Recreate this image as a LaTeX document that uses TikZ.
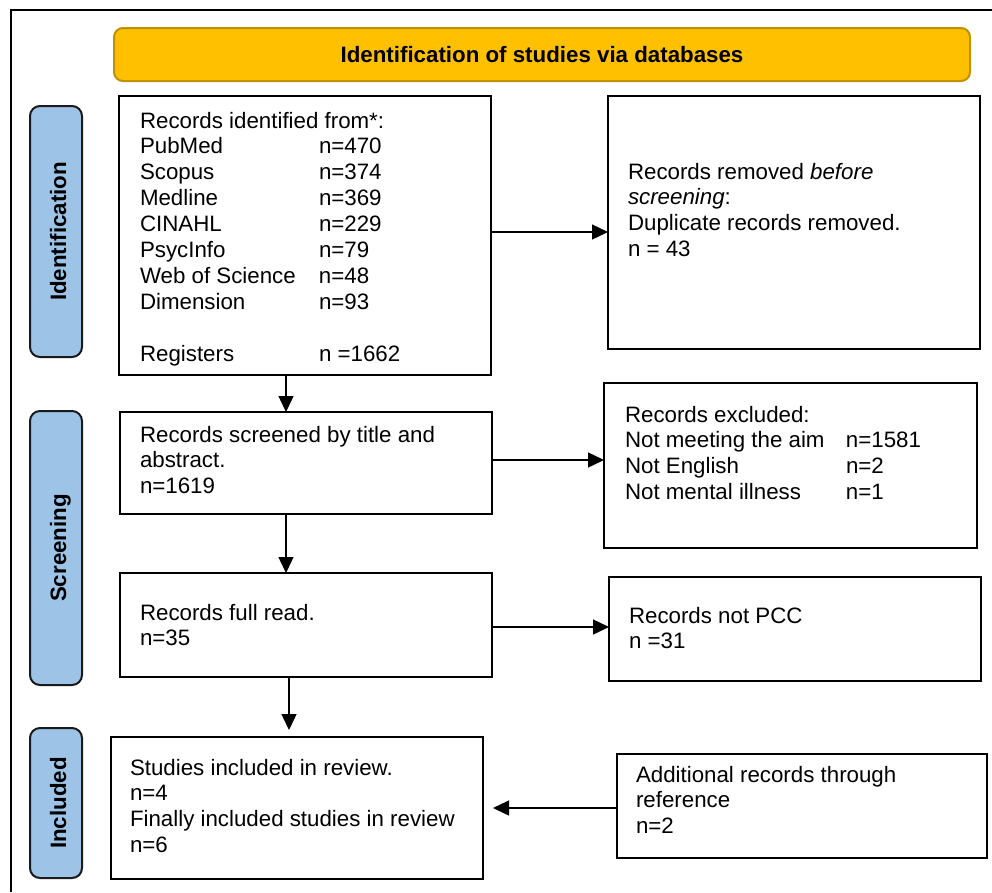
\documentclass[tikz,border=0pt]{standalone}
\usepackage{fontspec}
\setmainfont{Liberation Sans}
\usetikzlibrary{arrows.meta,calc}
\definecolor{hdrfill}{HTML}{FFC000}
\definecolor{hdrdraw}{HTML}{BF9000}
\definecolor{lblfill}{HTML}{9DC3E6}
\definecolor{lbldraw}{HTML}{1A1A1A}
\newcommand{\tb}[1]{\begin{tabular}[t]{@{}l@{}}#1\end{tabular}}
\begin{document}
\begin{tikzpicture}[x=1pt,y=-1pt,
  every node/.style={inner sep=0pt, outer sep=0pt},
  boxx/.style={draw=black, line width=2pt, anchor=north west, fill=white},
  txt/.style={anchor=base west, font=\fontsize{22.3}{25.9}\selectfont},
  lbl/.style={draw=lbldraw, fill=lblfill, line width=2pt, rounded corners=10pt, anchor=north west, minimum width=52pt},
  lbltxt/.style={rotate=90, anchor=base, font=\bfseries\fontsize{22.3}{26}\selectfont},
  arr/.style={line width=1.4pt, -{Triangle[length=16pt,width=15pt]}}]
\useasboundingbox (0,0) rectangle (992,892);
\fill[white] (0,0) rectangle (992,892);
\draw[line width=2pt] (11,892) -- (11,10) -- (992,10);

% header
\node[draw=hdrdraw, fill=hdrfill, line width=2pt, rounded corners=9pt, anchor=north west,
      minimum width=856pt, minimum height=53pt, font=\bfseries\fontsize{22.3}{26}\selectfont]
      (hdr) at (114,28) {Identification of studies via databases};

% phase labels
\node[lbl, minimum height=251pt] (lid) at (30,106) {};
\node[lbltxt] (lidt) at ($(lid.center)+(10,0)$) {Identification};
\node[lbl, minimum height=274pt] (lsc) at (30,411) {};
\node[lbltxt] (lsct) at ($(lsc.center)+(10,0)$) {Screening};
\node[lbl, minimum height=150pt] (lin) at (30,728) {};
\node[lbltxt] (lint) at ($(lin.center)+(10,0)$) {Included};

% boxes
\node[boxx, minimum width=372pt, minimum height=279pt] (idbox) at (119,96) {};
\node[boxx, minimum width=372pt, minimum height=253pt] (removed) at (608,96) {};
\node[boxx, minimum width=372pt, minimum height=102pt] (screened) at (120,412) {};
\node[boxx, minimum width=373pt, minimum height=165pt] (excluded) at (604,383) {};
\node[boxx, minimum width=372pt, minimum height=104pt] (fullread) at (120,573) {};
\node[boxx, minimum width=372pt, minimum height=104pt] (notpcc) at (609,577) {};
\node[boxx, minimum width=372pt, minimum height=142pt] (included) at (111,737) {};
\node[boxx, minimum width=370pt, minimum height=104pt] (additional) at (617,754) {};

% texts
\node[txt] (t1) at (140,128) {\begin{tabular}[t]{@{}p{179pt}@{}l@{}}
\multicolumn{2}{@{}l@{}}{Records identified from*:}\\
PubMed & n=470\\
Scopus & n=374\\
Medline & n=369\\
CINAHL & n=229\\
PsycInfo & n=79\\
Web of Science & n=48\\
Dimension & n=93\\
 & \\
Registers & n =1662
\end{tabular}};
\node[txt] (t2) at (628,179) {\tb{Records removed \textit{before}\\ \textit{screening}:\\ Duplicate records removed.\\ n = 43}};
\node[txt] (t3) at (140,442) {\tb{Records screened by title and\\ abstract.\\ n=1619}};
\node[txt] (t4) at (625,422) {\begin{tabular}[t]{@{}p{221pt}@{}l@{}}
\multicolumn{2}{@{}l@{}}{Records excluded:}\\
Not meeting the aim & n=1581\\
Not English & n=2\\
Not mental illness & n=1
\end{tabular}};
\node[txt] (t5) at (140,620) {\tb{Records full read.\\ n=35}};
\node[txt] (t6) at (629,623) {\tb{Records not PCC\\ n =31}};
\node[txt] (t7) at (130,775) {\tb{Studies included in review.\\ n=4\\ Finally included studies in review\\ n=6}};
\node[txt] (t8) at (636,782) {\tb{Additional records through\\ reference\\ n=2}};

% helper coordinates
\coordinate (y232) at (0,232);
\coordinate (y460) at (0,460);
\coordinate (y627) at (0,627);
\coordinate (y808) at (0,808);
\coordinate (x286) at (286,0);
\coordinate (x289) at (289,0);

% connectors
\draw[arr] (idbox.east |- y232) -- (removed.west |- y232);
\draw[arr] (idbox.south -| x286) -- (screened.north -| x286);
\draw[arr] (screened.east |- y460) -- (excluded.west |- y460);
\draw[arr] (screened.south -| x286) -- (fullread.north -| x286);
\draw[arr] (fullread.east |- y627) -- (notpcc.west |- y627);
\draw[arr, shorten >=7pt] (fullread.south -| x289) -- (included.north -| x289);
\draw[arr, shorten >=10pt] (additional.west |- y808) -- (included.east |- y808);
\end{tikzpicture}
\end{document}
